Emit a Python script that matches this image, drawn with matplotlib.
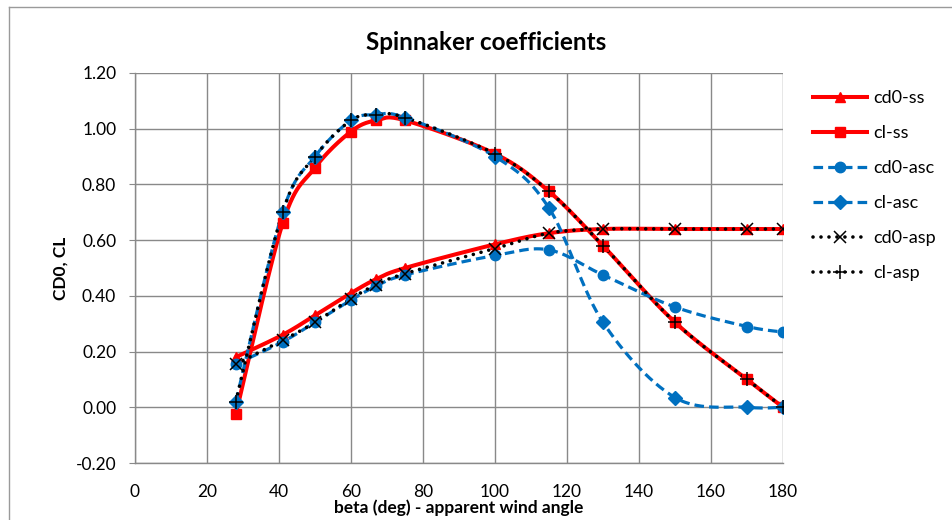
import numpy as np
import matplotlib
matplotlib.use("Agg")
import matplotlib.pyplot as plt
from matplotlib.lines import Line2D

plt.rcParams['font.family'] = ['Lato', 'DejaVu Sans']

beta = [28, 41, 50, 60, 67, 75, 100, 115, 130, 150, 170, 180]
cd0_ss = [0.18, 0.26, 0.33, 0.41, 0.46, 0.50, 0.585, 0.625, 0.64, 0.64, 0.64, 0.64]
cl_ss = [-0.025, 0.66, 0.86, 0.99, 1.03, 1.03, 0.91, 0.775, 0.58, 0.305, 0.10, 0.00]
cd0_asc = [0.155, 0.235, 0.305, 0.385, 0.435, 0.475, 0.545, 0.565, 0.475, 0.36, 0.29, 0.27]
cl_asc = [0.02, 0.70, 0.90, 1.03, 1.05, 1.04, 0.90, 0.715, 0.305, 0.035, 0.00, 0.00]
cd0_asp = [0.155, 0.24, 0.305, 0.39, 0.44, 0.48, 0.57, 0.625, 0.64, 0.64, 0.64, 0.64]
cl_asp = [0.02, 0.70, 0.90, 1.03, 1.05, 1.04, 0.91, 0.775, 0.58, 0.305, 0.10, 0.00]

labels = ['cd0-ss', 'cl-ss', 'cd0-asc', 'cl-asc', 'cd0-asp', 'cl-asp']

W, H = 953, 520
fig = plt.figure(figsize=(W / 100, H / 100), dpi=100)
L, R, T, B = 135, 783, 73, 463
ax = fig.add_axes([L / W, 1 - B / H, (R - L) / W, (B - T) / H])

xmin, xmax, ymin, ymax = 0, 180, -0.2, 1.2
sx = (R - L) / (xmax - xmin)
sy = (B - T) / (ymax - ymin)


def smooth(x, y, n=30):
    # Excel-like smoothing (Catmull-Rom) computed in screen space
    px = np.asarray(x, float) * sx
    py = np.asarray(y, float) * sy
    P = np.column_stack([px, py])
    P = np.vstack([P[0], P, P[-1]])
    out = []
    for i in range(1, len(P) - 2):
        p0, p1, p2, p3 = P[i - 1], P[i], P[i + 1], P[i + 2]
        c1 = p1 + (p2 - p0) / 6.0
        c2 = p2 - (p3 - p1) / 6.0
        t = np.linspace(0, 1, n)[:, None]
        seg = ((1 - t) ** 3) * p1 + 3 * ((1 - t) ** 2) * t * c1 + 3 * (1 - t) * t ** 2 * c2 + t ** 3 * p2
        if i > 1:
            seg = seg[1:]
        out.append(seg)
    S = np.vstack(out)
    return S[:, 0] / sx, S[:, 1] / sy


red = '#FF0000'
blue = '#0070C0'
series = [
    (cd0_ss, dict(color=red, ls='-', lw=2.9), dict(marker='^', ms=7, mfc=red, mec=red)),
    (cl_ss, dict(color=red, ls='-', lw=2.9), dict(marker='s', ms=7.5, mfc=red, mec=red)),
    (cd0_asc, dict(color=blue, ls=(0, (3, 1.6)), lw=2.3), dict(marker='o', ms=7.5, mfc=blue, mec=blue)),
    (cl_asc, dict(color=blue, ls=(0, (3, 1.6)), lw=2.3), dict(marker='D', ms=7, mfc=blue, mec=blue)),
    (cd0_asp, dict(color='black', ls=(0, (0.01, 2.2)), lw=2.6, dash_capstyle='round'),
     dict(marker='x', ms=9, mfc='black', mec='black', mew=1.1)),
    (cl_asp, dict(color='black', ls=(0, (0.01, 2.2)), lw=2.6, dash_capstyle='round'),
     dict(marker='+', ms=10, mfc='black', mec='black', mew=1.1)),
]

handles = []
for (vals, lstyle, mstyle), lab in zip(series, labels):
    xs, ys = smooth(beta, vals)
    ax.plot(xs, ys, solid_capstyle='round', zorder=3, **lstyle)
    ax.plot(beta, vals, ls='none', zorder=4, **mstyle)
    handles.append(Line2D([], [], **lstyle, **mstyle))

ax.set_xlim(xmin, xmax)
ax.set_ylim(ymin, ymax)
ax.set_xticks(np.arange(0, 181, 20))
ax.set_yticks(np.arange(-0.2, 1.21, 0.2))
ax.set_yticklabels([f'{v:.2f}' for v in np.arange(-0.2, 1.21, 0.2)])
ax.grid(True, color='#898989', lw=1.0)
ax.set_axisbelow(True)
for s in ['top', 'right']:
    ax.spines[s].set_visible(False)
for s in ['left', 'bottom']:
    ax.spines[s].set_color('#898989')
    ax.spines[s].set_linewidth(1.0)
ax.tick_params(axis='y', length=4.5, color='#898989', labelsize=12.5, pad=9)
ax.tick_params(axis='x', length=0, labelsize=12.5, pad=15)

ax.set_xlabel('beta (deg) - apparent wind angle', fontsize=12.5, fontweight='bold')
ax.set_ylabel('CD0, CL', fontsize=12.5, fontweight='bold')
ax.xaxis.set_label_coords(0.5, -(508 - B) / (B - T))
ax.yaxis.set_label_coords(-(L - 61) / (R - L), 0.5)
ax.xaxis.label.set_va('center')
ax.yaxis.label.set_va('center')
fig.text(486 / W, 1 - 42 / H, 'Spinnaker coefficients', ha='center', va='center',
         fontsize=17.5, fontweight='bold')

fig.legend(handles, labels, loc='upper left', bbox_to_anchor=(806 / W, 1 - 83 / H),
           frameon=False, fontsize=13, handlelength=3.0, handletextpad=0.3,
           labelspacing=1.05, borderaxespad=0)

# chart area border (left and top visible)
fig.add_artist(Line2D([9 / W, 9 / W], [0, 1 - 7 / H], color='#9a9a9a', lw=1.0, transform=fig.transFigure))
fig.add_artist(Line2D([9 / W, 1], [1 - 7 / H, 1 - 7 / H], color='#9a9a9a', lw=1.0, transform=fig.transFigure))

fig.savefig('out.png', dpi=100, facecolor='white')
